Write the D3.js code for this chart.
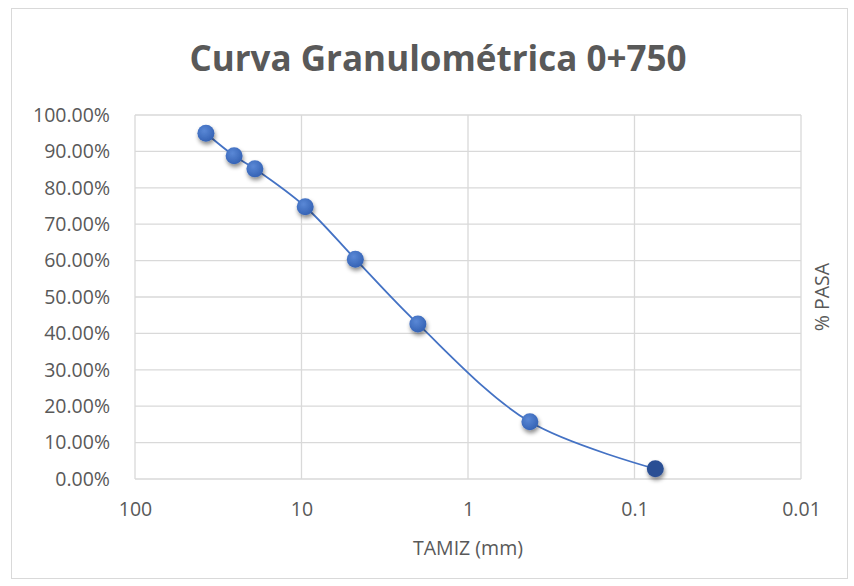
<!DOCTYPE html>
<html><head><meta charset="utf-8">
<script src="https://cdn.jsdelivr.net/npm/d3@7"></script>
<style>body{margin:0;background:#fff;} text{font-family:"Open Sans",sans-serif;}</style>
</head><body>
<svg id="c" width="854" height="586"></svg>
<script>
const sizes = [37.5, 25.4, 19.05, 9.5, 4.75, 2.0, 0.425, 0.075];
const pasa = [0.950, 0.888, 0.852, 0.748, 0.604, 0.426, 0.157, 0.028];
const xTicks = [100, 10, 1, 0.1, 0.01];
const yTicks = [0, 0.1, 0.2, 0.3, 0.4, 0.5, 0.6, 0.7, 0.8, 0.9, 1.0];
const title = "Curva Granulométrica 0+750";
const xTitle = "TAMIZ (mm)";
const yTitle = "% PASA";

const svg = d3.select("#c");
const L = 135, R = 801, T = 115, B = 479;
const x = d3.scaleLog().domain([100, 0.01]).range([L, R]);
const y = d3.scaleLinear().domain([0, 1]).range([B, T]);

svg.append("rect").attr("x", 11.5).attr("y", 8.5).attr("width", 836).attr("height", 570)
  .attr("fill", "#fff").attr("stroke", "#d9d9d9");

const defs = svg.append("defs");
const g = defs.append("radialGradient").attr("id", "mg").attr("cx", "40%").attr("cy", "35%").attr("r", "65%");
g.append("stop").attr("offset", "0%").attr("stop-color", "#5a88d6");
g.append("stop").attr("offset", "100%").attr("stop-color", "#3563b5");
const f = defs.append("filter").attr("id", "sh").attr("x", "-50%").attr("y", "-50%").attr("width", "200%").attr("height", "200%");
f.append("feDropShadow").attr("dx", 1).attr("dy", 3).attr("stdDeviation", 2).attr("flood-color", "#000").attr("flood-opacity", 0.45);

// grid
svg.append("g").selectAll("line").data(yTicks).join("line")
  .attr("x1", L).attr("x2", R).attr("y1", d => y(d)).attr("y2", d => y(d))
  .attr("stroke", "#d9d9d9").attr("stroke-width", 1.3);
svg.append("g").selectAll("line").data(xTicks).join("line")
  .attr("y1", T).attr("y2", B).attr("x1", d => x(d)).attr("x2", d => x(d))
  .attr("stroke", "#d9d9d9").attr("stroke-width", 1.3);

// axes labels
const ya = svg.append("g").attr("transform", `translate(${L},0)`)
  .call(d3.axisLeft(y).tickValues(yTicks).tickFormat(d3.format(".2%")).tickSize(0).tickPadding(25));
ya.select(".domain").remove();
ya.selectAll("text").attr("font-size", 19.5).attr("fill", "#595959").attr("font-family", "Open Sans");

const xa = svg.append("g").attr("transform", `translate(0,${B})`)
  .call(d3.axisBottom(x).tickValues(xTicks).tickFormat(d => String(d)).tickSize(0).tickPadding(23));
xa.select(".domain").remove();
xa.selectAll("text").attr("font-size", 19.5).attr("fill", "#595959").attr("font-family", "Open Sans");

svg.append("text").attr("x", 438).attr("y", 71).attr("text-anchor", "middle")
  .attr("font-size", 35).attr("font-weight", "bold").attr("fill", "#595959").text(title);
svg.append("text").attr("x", 468).attr("y", 555).attr("text-anchor", "middle")
  .attr("font-size", 19.5).attr("fill", "#595959").text(xTitle);
svg.append("text").attr("transform", `translate(829,${(T+B)/2}) rotate(-90)`).attr("text-anchor", "middle")
  .attr("font-size", 19.5).attr("fill", "#595959").text(yTitle);

const data = sizes.map((s, i) => ({s, p: pasa[i]}));
svg.append("path").datum(data)
  .attr("d", d3.line().x(d => x(d.s)).y(d => y(d.p)).curve(d3.curveCatmullRom.alpha(0.5)))
  .attr("fill", "none").attr("stroke", "#4472C4").attr("stroke-width", 1.8);

svg.append("g").selectAll("circle").data(data).join("circle")
  .attr("cx", d => x(d.s)).attr("cy", d => y(d.p)).attr("r", 8.5)
  .attr("fill", (d, i) => i === data.length - 1 ? "#2a4f94" : "url(#mg)")
  .attr("filter", "url(#sh)");
</script>
</body></html>
